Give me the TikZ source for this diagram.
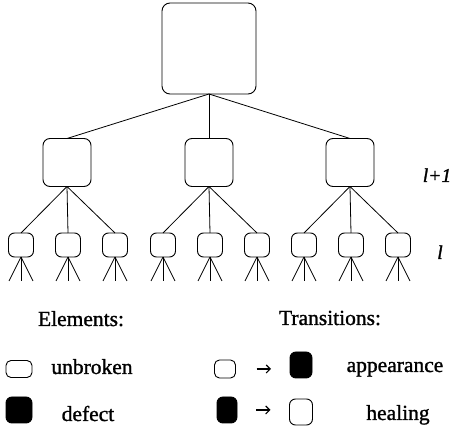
\documentclass[tikz,border=0pt]{standalone}
\usepackage{fontspec}
\setmainfont{Liberation Serif}
\usetikzlibrary{arrows.meta}
\begin{document}
\begin{tikzpicture}[x=1pt,y=-1pt,
  every node/.style={inner sep=0pt,outer sep=0pt},
  topbox/.style={draw,line width=0.9pt,rounded corners=8pt,minimum width=94pt,minimum height=91pt},
  midbox/.style={draw,line width=0.9pt,rounded corners=7pt,minimum width=48pt,minimum height=48pt},
  smallbox/.style={draw,line width=0.9pt,rounded corners=6pt,minimum width=25pt,minimum height=24pt},
  edge/.style={line width=0.8pt},
  lbl/.style={font=\fontsize{21.5}{25}\selectfont\addfontfeature{FakeBold=1.2},anchor=base},
  lvl/.style={font=\fontsize{19.5}{23}\selectfont\itshape\addfontfeature{FakeBold=1.5},anchor=base},
  wbox/.style={draw,line width=0.9pt,rounded corners=5pt,fill=white},
  bbox/.style={draw,line width=0.9pt,rounded corners=6pt,fill=black},
  arr/.style={line width=1.1pt,-{Straight Barb[length=4pt,width=8pt,line width=1.1pt]}}
]
\useasboundingbox (0,0) rectangle (456,430);
% tree
\node[topbox] (T) at (209,48.5) {};
\node[midbox] (M1) at (67,162.5) {};
\node[midbox] (M2) at (209,162.5) {};
\node[midbox] (M3) at (350,162.5) {};
\foreach \i in {1,2,3} \draw[edge] (T.south) -- (M\i.north);
\foreach \j/\x/\p in {1/21/1,2/68/1,3/115/1,4/163/2,5/210/2,6/257/2,7/304/3,8/351/3,9/398/3}{
  \node[smallbox] (S\j) at (\x,245) {};
  \draw[edge] (M\p.south) -- (S\j.north);
  \coordinate (L\j a) at (\x-12,281);
  \coordinate (L\j b) at (\x,281);
  \coordinate (L\j c) at (\x+12,281);
  \draw[edge] (S\j.south) -- (L\j a);
  \draw[edge] (S\j.south) -- (L\j b);
  \draw[edge] (S\j.south) -- (L\j c);
}
\node[lvl] (lp1) at (437,182) {l+1};
\node[lvl] (l0) at (440,259) {l};
% legend
\node[lbl] (elem) at (81,326) {Elements:};
\node[lbl] (trans) at (330,325) {Transitions:};
\node[wbox,minimum width=26pt,minimum height=17pt] (EW) at (19,369) {};
\node[lbl] (unb) at (92,374) {unbroken};
\node[bbox,minimum width=26pt,minimum height=26pt] (EB) at (19,410) {};
\node[lbl] (def) at (88,421) {defect};
\node[wbox,minimum width=21pt,minimum height=18pt] (A1) at (225,369) {};
\node[bbox,minimum width=22pt,minimum height=26pt] (A2) at (301,365) {};
\draw[arr,shorten <=21pt,shorten >=19pt] (A1.east) -- (A2.west |- A1.east);
\node[lbl] (app) at (395,372) {appearance};
\node[bbox,minimum width=20pt,minimum height=26pt] (H1) at (227,410) {};
\node[wbox,rounded corners=6pt,minimum width=23pt,minimum height=26pt] (H2) at (301,412) {};
\draw[arr,shorten <=19pt,shorten >=19pt] (H1.east) -- (H2.west |- H1.east);
\node[lbl] (heal) at (398,420) {healing};
\end{tikzpicture}
\end{document}
